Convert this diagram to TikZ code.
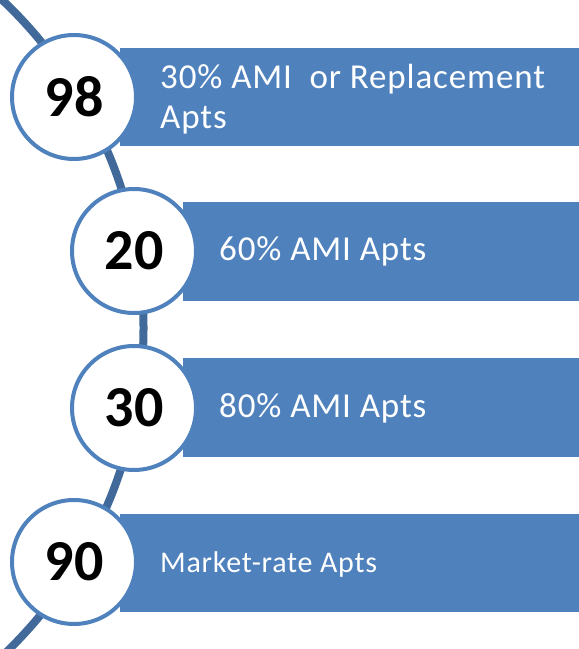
\documentclass[tikz,border=0pt]{standalone}
\usepackage{fontspec}
\setmainfont{Carlito}
\usepackage{tikz}
\usetikzlibrary{positioning}

\definecolor{barblue}{HTML}{4F81BD}
\definecolor{linkblue}{HTML}{41699A}

\begin{document}
\begin{tikzpicture}[x=1pt, y=1pt]
		\tikzstyle{Bar}		= [fill=barblue, draw=none]
		\tikzstyle{Disc}	= [circle, draw=barblue, line width=4pt, fill=white, minimum size=124pt, inner sep=0pt]
		\tikzstyle{Count}	= [font=\bfseries\fontsize{58}{60}\selectfont, text=black]
		\tikzstyle{Label}	= [font=\fontsize{35}{40}\selectfont\addfontfeatures{LetterSpace=2.5}, text=white, inner sep=0pt, align=left]
		\tikzstyle{Spine}	= [line width=8pt, linkblue]

		\useasboundingbox (0,0) rectangle (579,649);
		\clip (0,0) rectangle (579,649);

		% spine behind everything
		\coordinate (hub) at (-308, 321);
		\draw[Spine] (hub) ++(47:451.5) arc (47:-47:451.5);

		% bars
		\fill[Bar] (120, 503) rectangle (579, 601);
		\fill[Bar] (183, 348) rectangle (579, 447);
		\fill[Bar] (183, 192) rectangle (579, 291);
		\fill[Bar] (120, 37) rectangle (579, 135);

		% circles
		\node (c1) at (74, 552) [Disc] {};
		\node (c2) at (134, 398) [Disc] {};
		\node (c3) at (134, 241) [Disc] {};
		\node (c4) at (74, 87) [Disc] {};

		\node (n1) at (c1) [Count] {98};
		\node (n2) at (c2) [Count] {20};
		\node (n3) at (c3) [Count] {30};
		\node (n4) at (c4) [Count] {90};

		% labels
		\node (t1) at (160, 550) [Label, anchor=west] {30\% AMI\ \ or Replacement\\Apts};
		\node (t2) at (219, 388) [Label, anchor=base west] {60\% AMI Apts};
		\node (t3) at (219, 231) [Label, anchor=base west] {80\% AMI Apts};
		\node (t4) at (160, 76) [Label, anchor=base west, font=\fontsize{30}{34}\selectfont\addfontfeatures{LetterSpace=2.5}] {Market-rate Apts};
	\end{tikzpicture}
\end{document}
